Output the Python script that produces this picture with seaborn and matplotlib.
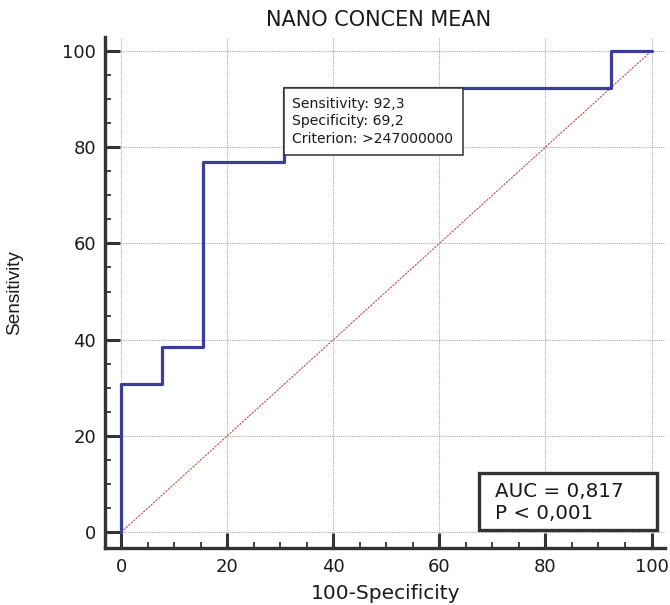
import matplotlib
matplotlib.use("Agg")
import matplotlib.pyplot as plt
import seaborn as sns
import pandas as pd
from matplotlib.ticker import MultipleLocator
from matplotlib.patches import Rectangle

# ROC curve corner points (100-Specificity, Sensitivity)
fpr = [0, 0, 7.7, 7.7, 15.4, 15.4, 30.8, 30.8, 92.3, 92.3, 100]
tpr = [0, 30.8, 30.8, 38.5, 38.5, 76.9, 76.9, 92.3, 92.3, 100, 100]
diag_x = [0, 100]
diag_y = [0, 100]
x_ticks = [0, 20, 40, 60, 80, 100]
y_ticks = [0, 20, 40, 60, 80, 100]
best_point = (30.8, 92.3)
best_text = "Sensitivity: 92,3\nSpecificity: 69,2\nCriterion: >247000000"
auc_text = "AUC = 0,817\nP < 0,001"
title = "NANO CONCEN MEAN"

sns.set_theme(style="white")
plt.rcParams["font.family"] = ["DejaVu Sans"]

fig = plt.figure(figsize=(6.7, 6.05), dpi=100)
ax = fig.add_axes([0.157, 0.094, 0.836, 0.845])

df = pd.DataFrame({"x": fpr, "y": tpr})
ddf = pd.DataFrame({"x": diag_x, "y": diag_y})

sns.lineplot(data=ddf, x="x", y="y", ax=ax, color="#c0504d", lw=0.8,
             linestyle=(0, (2, 1)), estimator=None, sort=False, zorder=2)
sns.lineplot(data=df, x="x", y="y", ax=ax, color="#3c3c9c", lw=2.3,
             estimator=None, sort=False, zorder=3)

ax.set_xlim(-3.0, 102.6)
ax.set_ylim(-3.3, 102.9)
ax.set_xticks(x_ticks)
ax.set_yticks(y_ticks)
ax.xaxis.set_minor_locator(MultipleLocator(5))
ax.yaxis.set_minor_locator(MultipleLocator(5))
ax.grid(True, which="major", color="#aaaaaa", linestyle=(0, (1, 1)), lw=0.8)
ax.set_axisbelow(True)

for s in ["top", "right"]:
    ax.spines[s].set_visible(False)
for s in ["left", "bottom"]:
    ax.spines[s].set_linewidth(2.4)
    ax.spines[s].set_color("#333333")

ax.tick_params(which="major", direction="in", length=11, width=2.2,
               color="#333333", labelsize=13, labelcolor="#1a1a1a",
               left=True, bottom=True, pad=6.5)
ax.tick_params(axis="x", which="major", pad=7)
ax.tick_params(which="minor", direction="in", length=4.5, width=1.3,
               color="#333333", left=True, bottom=True)

ax.set_xlabel("100-Specificity", fontsize=14.5, color="#1a1a1a", labelpad=6)
ax.set_ylabel("Sensitivity", fontsize=13.7, color="#1a1a1a", labelpad=28,
              family=["Liberation Sans", "DejaVu Sans"])
ax.set_title(title, fontsize=15, color="#1a1a1a", pad=7.5, x=0.4875)

# optimal criterion box
ax.add_patch(Rectangle((best_point[0], 78.4), 64.5 - best_point[0],
                       best_point[1] - 78.4, fc="white", ec="#333333",
                       lw=1.1, zorder=5))
ax.text(best_point[0] + 1.4, best_point[1] - 1.9, best_text, fontsize=10.1,
        va="top", ha="left", color="#1a1a1a", linespacing=1.3, zorder=6)

# AUC box
ax.add_patch(Rectangle((67.4, 0.4), 101.1 - 67.4, 12.3 - 0.4, fc="white",
                       ec="#333333", lw=2.4, zorder=5))
ax.text(70.4, 6.1, auc_text, fontsize=14.3, va="center", ha="left",
        color="#1a1a1a", linespacing=1.2, zorder=6)

fig.savefig("out.png", dpi=100)
